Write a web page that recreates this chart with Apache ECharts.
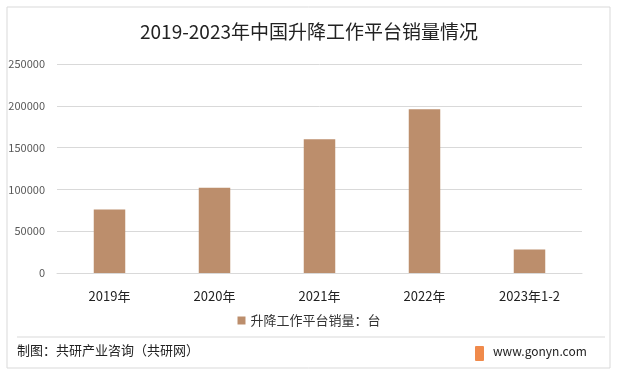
<!DOCTYPE html>
<html>
<head>
<meta charset="utf-8">
<script src="https://cdn.jsdelivr.net/npm/echarts@6/dist/echarts.min.js"></script>
<style>
  html, body { margin: 0; padding: 0; background: #fff; }
  #main { width: 618px; height: 376px; }
</style>
</head>
<body>
<div id="main"></div>
<script>
var years = ['2019年', '2020年', '2021年', '2022年', '2023年1-2'];
var sales = [76000, 102000, 160000, 196000, 28000];
var seriesName = '升降工作平台销量：台';

var chart = echarts.init(document.getElementById('main'));
var font = '"Noto Sans CJK SC", "Microsoft YaHei", sans-serif';

option = {
    backgroundColor: '#fff',
    textStyle: { fontFamily: font },
    title: {
        text: '2019-2023年中国升降工作平台销量情况',
        left: 'center',
        top: 17,
        textStyle: { fontSize: 19, fontWeight: 'normal', color: '#222', fontFamily: font }
    },
    grid: { left: 57, right: 36, top: 64, bottom: 103 },
    legend: {
        bottom: 44,
        left: 'center',
        itemWidth: 8,
        itemHeight: 8,
        itemGap: 4,
        icon: 'rect',
        textStyle: { fontSize: 13, color: '#333', fontFamily: font },
        data: [seriesName]
    },
    xAxis: {
        type: 'category',
        data: years,
        axisLine: { show: true, lineStyle: { color: '#d9d9d9' } },
        axisTick: { show: false },
        axisLabel: { fontSize: 13, color: '#222', margin: 17, fontFamily: font }
    },
    yAxis: {
        type: 'value',
        min: 0,
        max: 250000,
        interval: 50000,
        axisLine: { show: false },
        axisTick: { show: false },
        axisLabel: {
            fontSize: 11, color: '#595959', margin: 12,
            formatter: function (v) { return String(v); }
        },
        splitLine: { lineStyle: { color: '#d9d9d9' } }
    },
    series: [
        {
            name: seriesName,
            type: 'bar',
            barWidth: '30%',
            itemStyle: { color: '#bc8e6c' },
            data: sales
        }
    ],
    graphic: [
        {
            type: 'rect',
            shape: { x: 7, y: 7, width: 603, height: 361 },
            style: { fill: 'none', stroke: '#d9d9d9', lineWidth: 1 },
            silent: true
        },
        {
            type: 'line',
            shape: { x1: 17, y1: 337, x2: 605, y2: 337 },
            style: { stroke: '#d9d9d9', lineWidth: 1 }
        },
        {
            type: 'text',
            left: 17,
            top: 344,
            style: { text: '制图：共研产业咨询（共研网）', fontSize: 13, fill: '#222', fontFamily: font }
        },
        {
            type: 'rect',
            shape: { x: 475, y: 346, width: 9, height: 15, r: 1 },
            style: { fill: '#f08a4b' }
        },
        {
            type: 'text',
            left: 493,
            top: 345,
            style: { text: 'www.gonyn.com', fontSize: 12, fill: '#222', fontFamily: font }
        }
    ]
};

chart.setOption(option);
</script>
</body>
</html>
